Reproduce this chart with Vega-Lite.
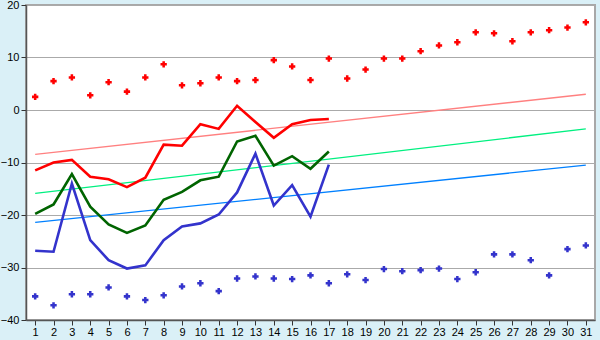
{
  "$schema": "https://vega.github.io/schema/vega-lite/v6.json",
  "width": 569,
  "height": 315,
  "autosize": {"type": "none"},
  "padding": {"left": 26, "top": 5, "right": 5, "bottom": 20},
  "background": "#daf0f7",
  "config": {
    "view": {"stroke": "#a8a8a8", "strokeWidth": 2, "fill": "white"},
    "axis": {"labelFont": "Liberation Sans", "labelFontSize": 11, "labelColor": "#000000", "domainColor": "#555555", "tickColor": "#333333", "title": null}
  },
  "datasets": {
    "pts": [
      {"day": 1, "hi": 2.5, "lo": -35.5},
      {"day": 2, "hi": 5.5, "lo": -37.2},
      {"day": 3, "hi": 6.2, "lo": -35.1},
      {"day": 4, "hi": 2.8, "lo": -35.1},
      {"day": 5, "hi": 5.3, "lo": -33.8},
      {"day": 6, "hi": 3.5, "lo": -35.5},
      {"day": 7, "hi": 6.2, "lo": -36.2},
      {"day": 8, "hi": 8.7, "lo": -35.3},
      {"day": 9, "hi": 4.7, "lo": -33.6},
      {"day": 10, "hi": 5.1, "lo": -33.0},
      {"day": 11, "hi": 6.2, "lo": -34.5},
      {"day": 12, "hi": 5.5, "lo": -32.1},
      {"day": 13, "hi": 5.7, "lo": -31.7},
      {"day": 14, "hi": 9.5, "lo": -32.1},
      {"day": 15, "hi": 8.3, "lo": -32.2},
      {"day": 16, "hi": 5.7, "lo": -31.5},
      {"day": 17, "hi": 9.8, "lo": -33.0},
      {"day": 18, "hi": 6.0, "lo": -31.3},
      {"day": 19, "hi": 7.7, "lo": -32.4},
      {"day": 20, "hi": 9.8, "lo": -30.3},
      {"day": 21, "hi": 9.8, "lo": -30.7},
      {"day": 22, "hi": 11.2, "lo": -30.5},
      {"day": 23, "hi": 12.3, "lo": -30.2},
      {"day": 24, "hi": 12.9, "lo": -32.2},
      {"day": 25, "hi": 14.8, "lo": -30.9},
      {"day": 26, "hi": 14.6, "lo": -27.5},
      {"day": 27, "hi": 13.1, "lo": -27.5},
      {"day": 28, "hi": 14.8, "lo": -28.6},
      {"day": 29, "hi": 15.2, "lo": -31.5},
      {"day": 30, "hi": 15.7, "lo": -26.5},
      {"day": 31, "hi": 16.7, "lo": -25.8}
    ],
    "lines": [
      {"day": 1, "s": "max", "v": -11.5}, {"day": 2, "s": "max", "v": -10.0}, {"day": 3, "s": "max", "v": -9.5},
      {"day": 4, "s": "max", "v": -12.7}, {"day": 5, "s": "max", "v": -13.2}, {"day": 6, "s": "max", "v": -14.7},
      {"day": 7, "s": "max", "v": -12.9}, {"day": 8, "s": "max", "v": -6.6}, {"day": 9, "s": "max", "v": -6.8},
      {"day": 10, "s": "max", "v": -2.7}, {"day": 11, "s": "max", "v": -3.6}, {"day": 12, "s": "max", "v": 0.8},
      {"day": 13, "s": "max", "v": -2.3}, {"day": 14, "s": "max", "v": -5.3}, {"day": 15, "s": "max", "v": -2.7},
      {"day": 16, "s": "max", "v": -1.9}, {"day": 17, "s": "max", "v": -1.7},
      {"day": 1, "s": "mean", "v": -19.8}, {"day": 2, "s": "mean", "v": -18.0}, {"day": 3, "s": "mean", "v": -12.2},
      {"day": 4, "s": "mean", "v": -18.4}, {"day": 5, "s": "mean", "v": -21.8}, {"day": 6, "s": "mean", "v": -23.4},
      {"day": 7, "s": "mean", "v": -22.0}, {"day": 8, "s": "mean", "v": -17.1}, {"day": 9, "s": "mean", "v": -15.6},
      {"day": 10, "s": "mean", "v": -13.4}, {"day": 11, "s": "mean", "v": -12.7}, {"day": 12, "s": "mean", "v": -6.0},
      {"day": 13, "s": "mean", "v": -4.9}, {"day": 14, "s": "mean", "v": -10.6}, {"day": 15, "s": "mean", "v": -8.8},
      {"day": 16, "s": "mean", "v": -11.2}, {"day": 17, "s": "mean", "v": -7.9},
      {"day": 1, "s": "min", "v": -26.8}, {"day": 2, "s": "min", "v": -27.0}, {"day": 3, "s": "min", "v": -14.0},
      {"day": 4, "s": "min", "v": -24.8}, {"day": 5, "s": "min", "v": -28.6}, {"day": 6, "s": "min", "v": -30.2},
      {"day": 7, "s": "min", "v": -29.6}, {"day": 8, "s": "min", "v": -24.8}, {"day": 9, "s": "min", "v": -22.2},
      {"day": 10, "s": "min", "v": -21.6}, {"day": 11, "s": "min", "v": -19.9}, {"day": 12, "s": "min", "v": -15.7},
      {"day": 13, "s": "min", "v": -8.3}, {"day": 14, "s": "min", "v": -18.2}, {"day": 15, "s": "min", "v": -14.3},
      {"day": 16, "s": "min", "v": -20.3}, {"day": 17, "s": "min", "v": -10.4}
    ],
    "trend": [
      {"day": 1, "s": "nmax", "v": -8.44}, {"day": 31, "s": "nmax", "v": 3.0},
      {"day": 1, "s": "nmean", "v": -15.9}, {"day": 31, "s": "nmean", "v": -3.6},
      {"day": 1, "s": "nmin", "v": -21.4}, {"day": 31, "s": "nmin", "v": -10.5}
    ]
  },
  "encoding": {
    "x": {"field": "day", "type": "quantitative", "scale": {"domain": [0.5, 31.5], "nice": false, "zero": false},
      "axis": {"values": [1,2,3,4,5,6,7,8,9,10,11,12,13,14,15,16,17,18,19,20,21,22,23,24,25,26,27,28,29,30,31], "grid": false, "tickSize": 5, "labelPadding": 1, "domainWidth": 1.5}}
  },
  "layer": [
    {
      "data": {"name": "trend"},
      "mark": {"type": "line", "strokeWidth": 1.3},
      "encoding": {
        "y": {"field": "v", "type": "quantitative", "scale": {"domain": [-40, 20], "nice": false},
          "axis": {"values": [-40,-35,-30,-25,-20,-15,-10,-5,0,5,10,15,20], "grid": true, "gridColor": "#aaaaaa", "gridWidth": 1.2, "tickSize": 5, "labelPadding": 2, "domainWidth": 1.5}},
        "color": {"field": "s", "type": "nominal", "legend": null,
          "scale": {"domain": ["nmax", "nmean", "nmin", "max", "mean", "min"], "range": ["#ff8080", "#00f080", "#0080ff", "#ff0000", "#006400", "#3333cc"]}},
        "detail": {"field": "s"}
      }
    },
    {
      "data": {"name": "lines"},
      "mark": {"type": "line", "strokeWidth": 2.6},
      "encoding": {
        "y": {"field": "v", "type": "quantitative"},
        "color": {"field": "s", "type": "nominal", "legend": null},
        "detail": {"field": "s"}
      }
    },
    {
      "data": {"name": "pts"},
      "mark": {"type": "point", "shape": "cross", "filled": true, "size": 40, "opacity": 1, "color": "#ff0000"},
      "encoding": {"y": {"field": "hi", "type": "quantitative"}}
    },
    {
      "data": {"name": "pts"},
      "mark": {"type": "point", "shape": "cross", "filled": true, "size": 40, "opacity": 1, "color": "#3333cc"},
      "encoding": {"y": {"field": "lo", "type": "quantitative"}}
    }
  ]
}
